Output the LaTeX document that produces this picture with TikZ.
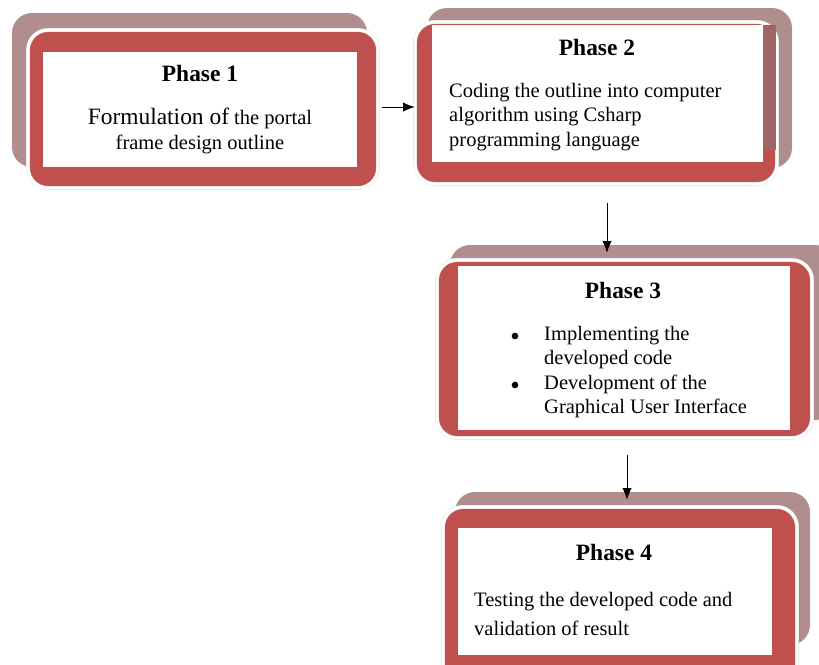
\documentclass[tikz,border=0pt]{standalone}
\usepackage{fontspec}
\setmainfont{LiberationSerif}[Extension=.ttf,UprightFont=*-Regular,BoldFont=*-Bold,ItalicFont=*-Italic,BoldItalicFont=*-BoldItalic]
\usetikzlibrary{arrows.meta}
\usetikzlibrary{fit}
\usetikzlibrary{positioning}
\definecolor{phasered}{HTML}{C0504D}
\definecolor{phaseshadow}{HTML}{B08E8E}
\definecolor{phasestrip}{HTML}{A06666}

\begin{document}
\begin{tikzpicture}[x=0.03cm,y=-0.03cm,
  shadowbox/.style={fill=phaseshadow,rounded corners=0.6cm,inner sep=0pt},
  phase/.style={fill=phasered,draw=black!12,double=white,double distance=2.5pt,rounded corners=0.6cm,inner sep=0pt},
  pane/.style={fill=white,inner sep=0pt},
  head/.style={font=\fontsize{20}{24}\selectfont\bfseries,inner sep=0pt},
  body/.style={font=\fontsize{17.5}{21}\selectfont,align=left,inner sep=0pt},
  dot/.style={circle,fill=black,inner sep=0pt,minimum size=0.2cm},
  flow/.style={-{Latex[length=10pt,width=8pt]},line width=0.8pt}]
  \useasboundingbox (0,0) rectangle (819,664);
  \clip (0,0) rectangle (819,664);

  \node[shadowbox,fit={(12,13) (367,167)}] (s1) {};
  \node[phase,fit={(28,30) (378,188)}] (p1) {};
  \node[pane,fit={(43,52) (357,167)}] (w1) {};
  \node[head] (h1) at (200,73) {Phase 1};
  \node[body,align=center] (t1) at (200,131) {{\fontsize{20}{24}\selectfont Formulation of} the portal\\frame design outline};

  \node[shadowbox,fit={(427,8) (792,168)}] (s2) {};
  \node[phase,fit={(415,22) (777,184)}] (p2) {};
  \fill[phasestrip] (763,25) rectangle (776,150);
  \node[pane,fit={(432,25) (763,162)}] (w2) {};
  \node[head] (h2) at (597,47) {Phase 2};
  \node[body,anchor=west] (t2) at (449,117) {Coding the outline into computer\\algorithm using Csharp\\programming language};

  \node[shadowbox,fit={(450,245) (835,420)}] (s3) {};
  \node[phase,fit={(437,260) (812,438)}] (p3) {};
  \node[pane,fit={(458,266) (790,430)}] (w3) {};
  \node[head] (h3) at (623,290) {Phase 3};
  \node[dot] (b1) at (515,336) {};
  \node[dot] (b2) at (515,385) {};
  \node[body,anchor=west] (t3) at (544,372) {Implementing the\\developed code\\Development of the\\Graphical User Interface};

  \node[shadowbox,fit={(455,492) (810,645)}] (s4) {};
  \node[phase,fit={(443,507) (797,690)}] (p4) {};
  \node[pane,fit={(458,528) (772,655)}] (w4) {};
  \node[head] (h4) at (614,552) {Phase 4};
  \node[body,anchor=west,font=\fontsize{17.5}{24}\selectfont] (t4) at (474,614) {Testing the developed code and\\validation of result};

  \coordinate (a12) at (382,107);
  \coordinate (a23) at (607,203);
  \coordinate (a34) at (627,455);
  \draw[flow] (a12) -- (p2.west |- a12);
  \draw[flow,shorten >=6pt] (a23) -- (a23 |- p3.north);
  \draw[flow,shorten >=6pt] (a34) -- (a34 |- p4.north);
\end{tikzpicture}
\end{document}
